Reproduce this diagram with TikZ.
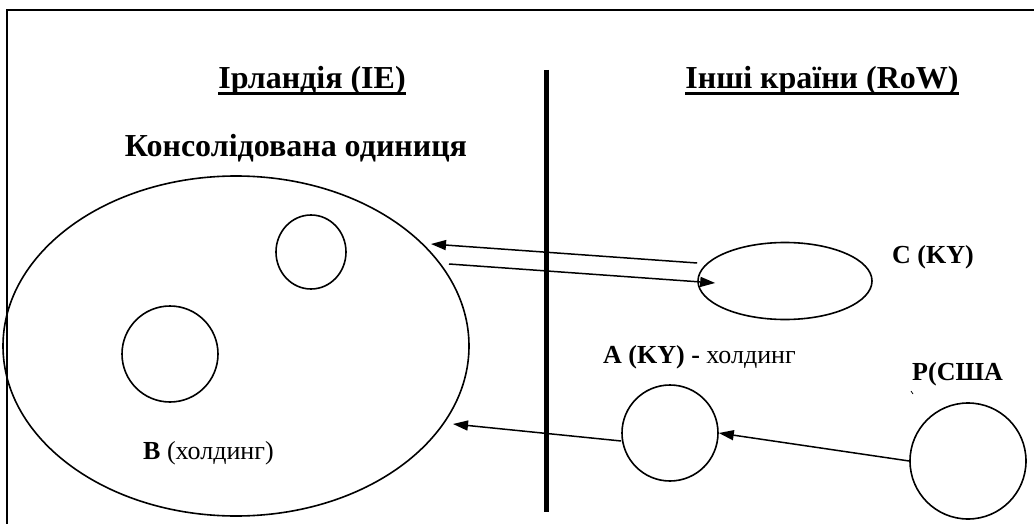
\documentclass[tikz,border=0pt]{standalone}
\usepackage{fontspec}
\setmainfont{Liberation Serif}
\usetikzlibrary{shapes.geometric,arrows.meta,calc}
\tikzset{
  oval/.style={draw, line width=1.6pt, ellipse, inner sep=0pt},
  lbl/.style={inner sep=0pt, anchor=base west, font=\fontsize{26}{30}\selectfont},
  head/.style={inner sep=0pt, anchor=base, font=\fontsize{32}{36}\selectfont\bfseries},
  uline/.style={line width=2.6pt},
  link/.style={line width=1.5pt, -{Triangle[length=15pt,width=10pt]}},
}
\begin{document}
\begin{tikzpicture}[x=1pt,y=-1pt]
\useasboundingbox (0,0) rectangle (1034,524);
\draw[line width=2.2pt] (1040,10) -- (7,10) -- (7,530);
\draw[line width=5pt] (546,70) -- (546,512);
% headings
\node[head] (hIE) at (312,89) {Ірландія (IE)};
\node[head] (hRoW) at (822,89) {Інші країни (RoW)};
\draw[uline] ($(hIE.base west)+(0,4.5)$) -- ($(hIE.base east)+(0,4.5)$);
\draw[uline] ($(hRoW.base west)+(0,4.5)$) -- ($(hRoW.base east)+(0,4.5)$);
\node[head] (cons) at (296,157) {Консолідована одиниця};
% shapes
\node[oval, minimum width=466pt, minimum height=340pt] (big) at (236,346) {};
\node[oval, minimum width=70pt, minimum height=74pt] (s1) at (311,252) {};
\node[oval, minimum width=96pt, minimum height=96pt] (s2) at (170,354) {};
\node[oval, minimum width=174pt, minimum height=77pt] (C) at (785,281) {};
\node[oval, minimum width=96pt, minimum height=96pt] (A) at (670,433) {};
\node[oval, minimum width=116pt, minimum height=116pt] (P) at (968,461) {};
% labels
\node[lbl] (lB) at (143,459) {\textbf{B} (холдинг)};
\node[lbl] (lC) at (892,263) {\textbf{C (KY)}};
\node[lbl] (lA) at (603,363) {\textbf{A (KY) -} холдинг};
\node[lbl] (lP) at (912,380) {\textbf{P(США}};
\draw[line width=0.8pt] (911,391) -- (913,394);
% connectors
\coordinate (in1) at (431,244);
\coordinate (out2) at (449,264);
\coordinate (in3) at (453,424);
\coordinate (c1) at ($(C.west)+(0,-18)$);
\coordinate (c2) at ($(C.west)+(18,2)$);
\coordinate (a1) at ($(A.west)+(0,8)$);
\draw[link] (c1) -- (in1);
\draw[link] (out2) -- (c2);
\draw[link] (a1) -- (in3);
\draw[link] (P.west) -- (A.east);
\end{tikzpicture}
\end{document}
